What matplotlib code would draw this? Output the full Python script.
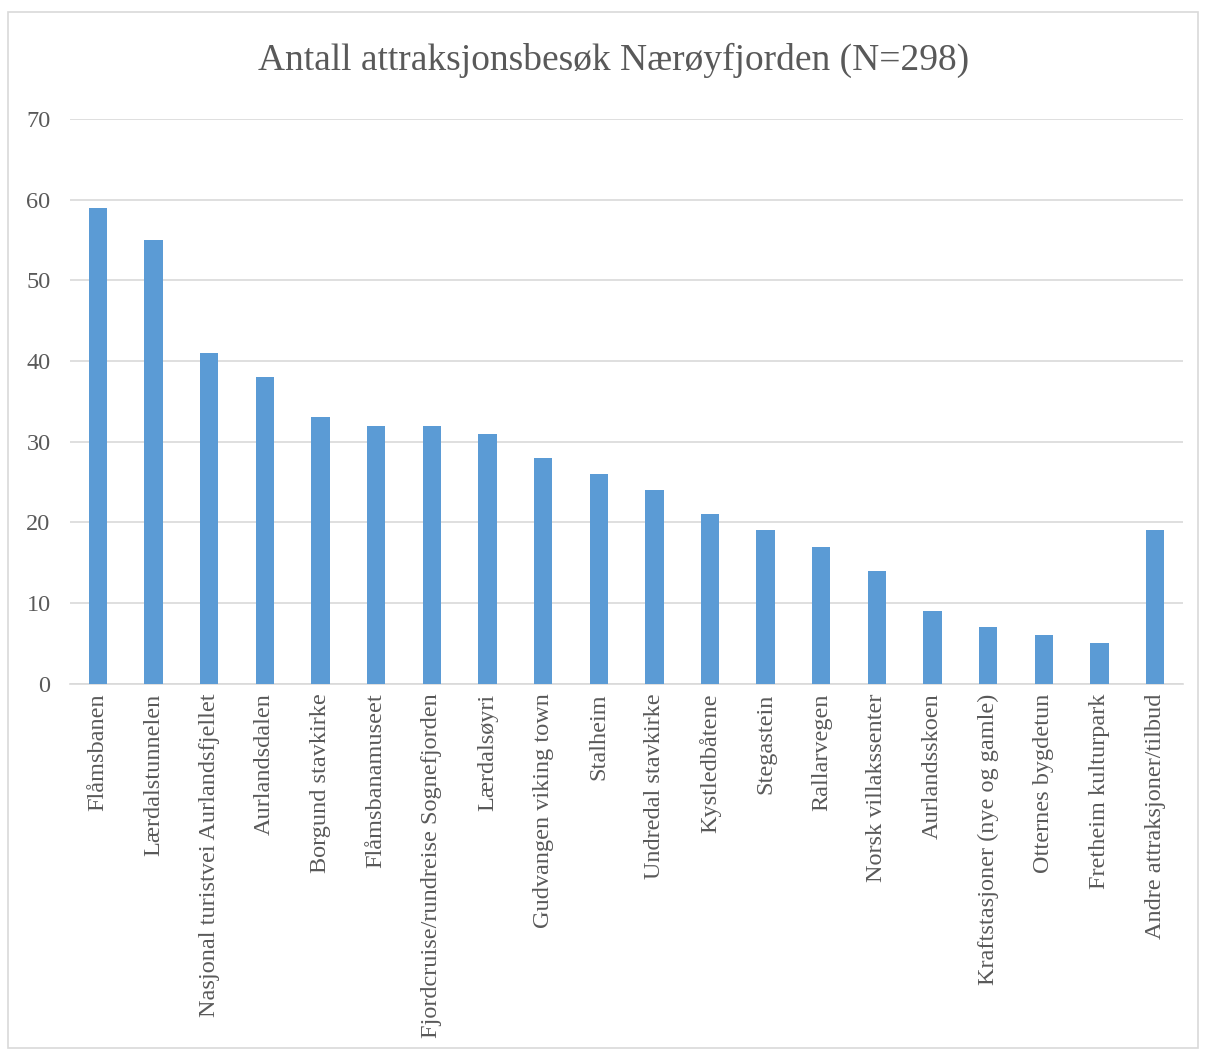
import matplotlib
matplotlib.use("Agg")
import matplotlib.pyplot as plt
from matplotlib.patches import Rectangle

categories = ["Flåmsbanen", "Lærdalstunnelen", "Nasjonal turistvei Aurlandsfjellet",
              "Aurlandsdalen", "Borgund stavkirke", "Flåmsbanamuseet",
              "Fjordcruise/rundreise Sognefjorden", "Lærdalsøyri", "Gudvangen viking town",
              "Stalheim", "Undredal stavkirke", "Kystledbåtene", "Stegastein",
              "Rallarvegen", "Norsk villakssenter", "Aurlandsskoen",
              "Kraftstasjoner (nye og gamle)", "Otternes bygdetun", "Fretheim kulturpark",
              "Andre attraksjoner/tilbud"]
values = [59, 55, 41, 38, 33, 32, 32, 31, 28, 26, 24, 21, 19, 17, 14, 9, 7, 6, 5, 19]
yticks = [0, 10, 20, 30, 40, 50, 60, 70]

plt.rcParams['font.family'] = ['Liberation Serif', 'DejaVu Serif']

fig = plt.figure(figsize=(12.06, 10.52), dpi=100)
ax = fig.add_axes([0.058, 0.350, 0.923, 0.537])

x = range(len(categories))
ax.bar(x, values, width=0.33, color='#5b9bd5', zorder=3)

ax.set_ylim(0, 70)
ax.set_xlim(-0.5, len(categories) - 0.5)
ax.set_yticks(yticks)
ax.set_yticklabels([str(v) for v in yticks], fontsize=17.5, color='#595959')
ax.set_xticks(list(x))
ax.set_xticklabels(categories, rotation=90, fontsize=17.5, color='#595959')
ax.tick_params(length=0, pad=7)
ax.tick_params(axis='y', pad=14)

ax.grid(axis='y', color='#d9d9d9', linewidth=1.2, zorder=0)
for s in ['top', 'right', 'left']:
    ax.spines[s].set_visible(False)
ax.spines['bottom'].set_color('#d9d9d9')
ax.spines['bottom'].set_linewidth(1.2)

fig.text(0.509, 0.943, "Antall attraksjonsbesøk Nærøyfjorden (N=298)",
         ha='center', va='center', fontsize=27, color='#595959')

fig.patches.append(Rectangle((0.007, 0.004), 0.986, 0.985, transform=fig.transFigure,
                             fill=False, edgecolor='#d9d9d9', linewidth=1.2))

fig.savefig("out.png", dpi=100)
